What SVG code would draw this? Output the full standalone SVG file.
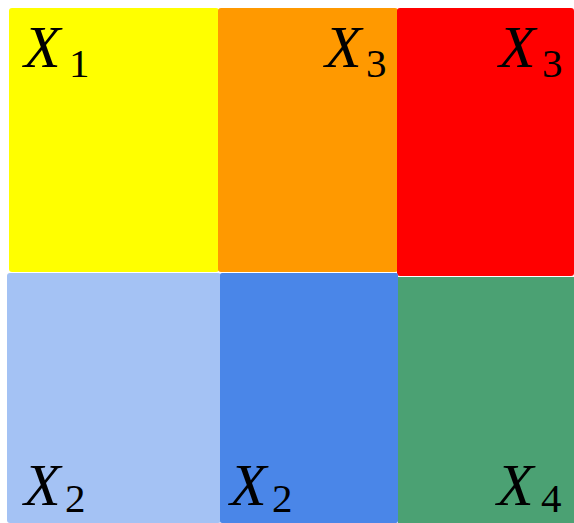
<svg xmlns="http://www.w3.org/2000/svg" width="574" height="523" viewBox="0 0 574 523">
<style>
.lbl{font-family:"Liberation Serif","Times New Roman",serif;font-style:italic;font-size:60px;fill:#000}
.sub{font-style:normal;font-size:41px}
</style>
<rect width="574" height="523" fill="#ffffff"/>
<g id="cell-yellow"><rect x="9" y="8" width="210" height="264" rx="3" fill="#ffff00"/>
<text class="lbl" x="24" y="67">X<tspan class="sub" x="69" y="77">1</tspan></text></g>
<g id="cell-orange"><rect x="218" y="8" width="180" height="264" rx="3" fill="#ff9900"/>
<text class="lbl" x="325" y="67">X<tspan class="sub" x="366" y="77">3</tspan></text></g>
<g id="cell-red"><rect x="397" y="8" width="177" height="268" rx="3" fill="#ff0000"/>
<text class="lbl" x="499" y="67">X<tspan class="sub" x="542" y="77">3</tspan></text></g>
<g id="cell-lightblue"><rect x="7" y="273" width="214" height="250" rx="3" fill="#a4c2f4"/>
<text class="lbl" x="24" y="505">X<tspan class="sub" x="65" y="512">2</tspan></text></g>
<g id="cell-blue"><rect x="220" y="273" width="178" height="250" rx="2" fill="#4a86e8"/>
<text class="lbl" x="230" y="505">X<tspan class="sub" x="272" y="512">2</tspan></text></g>
<g id="cell-green"><rect x="398" y="277" width="176" height="246" fill="#4ba173"/>
<text class="lbl" x="497" y="505">X<tspan class="sub" x="541" y="512">4</tspan></text></g>
<g id="connectors"/>
</svg>
